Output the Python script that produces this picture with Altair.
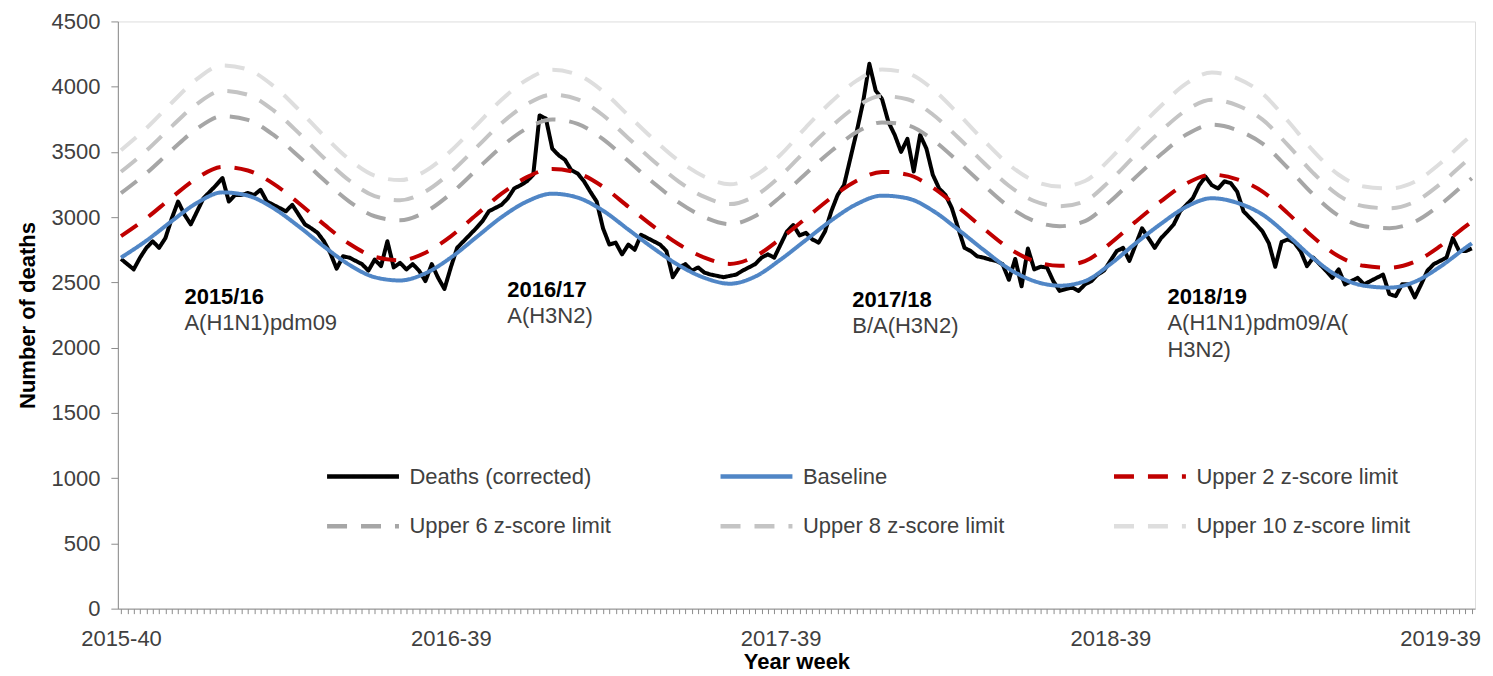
import altair as alt
import pandas as pd

# ---------------- data ----------------
week_labels = ["2015-40", "2016-39", "2017-39", "2018-39", "2019-39"]
label_weeks = [0, 52, 104, 156, 208]

deaths = [
    2680, 2640, 2600, 2690, 2765, 2815, 2765, 2840, 2990, 3120,
    3020, 2945, 3045, 3145, 3195, 3245, 3300, 3120, 3170, 3170,
    3185, 3170, 3210, 3120, 3095, 3070, 3045, 3095, 3020, 2945,
    2915, 2880, 2815, 2725, 2605, 2700, 2690, 2665, 2640, 2590,
    2675, 2625, 2815, 2615, 2650, 2600, 2640, 2590, 2510, 2640,
    2535, 2450, 2615, 2765, 2815, 2865, 2915, 2970, 3045, 3070,
    3095, 3145, 3220, 3245, 3275, 3325, 3780, 3755, 3525, 3475,
    3440, 3360, 3335, 3275, 3195, 3120, 2915, 2790, 2805, 2715,
    2790, 2750, 2865, 2840, 2815, 2790, 2740, 2540, 2615, 2640,
    2590, 2615, 2575, 2560, 2550, 2540, 2550, 2560, 2590, 2615,
    2640, 2690, 2715, 2690, 2790, 2890, 2940, 2860, 2880, 2830,
    2805, 2890, 3045, 3170, 3245, 3450, 3655, 3880, 4175, 3970,
    3905, 3730, 3630, 3500, 3600, 3350, 3630, 3525, 3325, 3220,
    3170, 3070, 2915, 2765, 2740, 2700, 2690, 2675, 2665, 2640,
    2520, 2680, 2470, 2760, 2600, 2620, 2615, 2510, 2435, 2450,
    2460, 2435, 2485, 2510, 2560, 2590, 2665, 2740, 2765, 2665,
    2790, 2915, 2840, 2765, 2840, 2890, 2945, 3045, 3095, 3145,
    3245, 3310, 3245, 3220, 3275, 3260, 3195, 3045, 2995, 2945,
    2890, 2800, 2620, 2810, 2830, 2805, 2740, 2625, 2690, 2640,
    2590, 2535, 2600, 2485, 2510, 2535, 2485, 2510, 2535, 2560,
    2410, 2395, 2485, 2485, 2385, 2485, 2590, 2640, 2665, 2690,
    2840, 2740, 2740, 2760,
]
week_index = list(range(len(deaths)))

# baseline and limits read every 4 weeks (plus the last week)
smooth_weeks = list(range(0, 213, 4)) + [213]

baseline = [
    2690, 2820, 2970, 3110, 3190, 3165, 3070, 2930, 2775, 2635,
    2540, 2515, 2570, 2690, 2845, 3000, 3120, 3180, 3150, 3050,
    2905, 2760, 2630, 2535, 2490, 2545, 2675, 2825, 2975, 3100,
    3165, 3145, 3050, 2905, 2750, 2605, 2510, 2475, 2510, 2640,
    2800, 2950, 3080, 3145, 3110, 3020, 2860, 2685, 2545, 2475,
    2460, 2505, 2620, 2765, 2800,
]
upper2 = [
    2855, 2992, 3151, 3300, 3385, 3358, 3257, 3109, 2945, 2796,
    2696, 2669, 2727, 2853, 3017, 3180, 3307, 3370, 3338, 3233,
    3080, 2927, 2790, 2690, 2642, 2700, 2836, 2992, 3149, 3279,
    3347, 3326, 3227, 3076, 2914, 2762, 2663, 2627, 2663, 2799,
    2966, 3123, 3258, 3326, 3290, 3196, 3029, 2846, 2700, 2627,
    2612, 2658, 2778, 2930, 2966,
]
upper6 = [
    3184, 3337, 3514, 3679, 3774, 3745, 3632, 3467, 3284, 3119,
    3007, 2976, 3040, 3180, 3360, 3540, 3680, 3749, 3715, 3598,
    3430, 3262, 3111, 3000, 2947, 3009, 3157, 3335, 3507, 3652,
    3726, 3704, 3593, 3426, 3247, 3081, 2970, 2931, 2970, 3122,
    3307, 3482, 3633, 3708, 3667, 3563, 3377, 3174, 3011, 2931,
    2916, 2965, 3095, 3259, 3298,
]
upper8 = [
    3348, 3510, 3696, 3869, 3968, 3938, 3820, 3646, 3454, 3281,
    3162, 3130, 3197, 3344, 3532, 3720, 3866, 3939, 3903, 3781,
    3605, 3429, 3271, 3155, 3100, 3164, 3317, 3512, 3695, 3849,
    3928, 3904, 3787, 3610, 3419, 3241, 3124, 3083, 3124, 3283,
    3478, 3661, 3820, 3899, 3857, 3747, 3552, 3338, 3167, 3083,
    3068, 3118, 3253, 3423, 3464,
]
upper10 = [
    3513, 3682, 3877, 4059, 4163, 4131, 4007, 3825, 3624, 3442,
    3318, 3284, 3354, 3507, 3704, 3900, 4053, 4129, 4091, 3964,
    3780, 3596, 3431, 3310, 3252, 3319, 3478, 3689, 3884, 4046,
    4131, 4104, 3981, 3793, 3590, 3403, 3277, 3235, 3277, 3449,
    3658, 3854, 4025, 4109, 4064, 3946, 3737, 3508, 3325, 3235,
    3220, 3271, 3411, 3588, 3630,
]

series_names = [
    "Deaths (corrected)", "Baseline", "Upper 2 z-score limit",
    "Upper 6 z-score limit", "Upper 8 z-score limit", "Upper 10 z-score limit",
]

season_titles = ["2015/16", "2016/17", "2017/18", "2018/19"]
season_lines = ["A(H1N1)pdm09", "A(H3N2)", "B/A(H3N2)", "A(H1N1)pdm09/A(", "H3N2)"]

# ---------------- styles / placement ----------------
series_colors = ["#000000", "#5086c6", "#c00000", "#a6a6a6", "#c4c4c4", "#dedede"]
series_dash = [[1, 0], [1, 0], [20, 14], [20, 14], [20, 14], [20, 14]]

title_x = [10.0, 60.9, 115.3, 165.0]
title_y = [2386, 2440, 2363, 2386]
line_x = [10.0, 60.9, 115.3, 165.0, 165.0]
line_y = [2187, 2240, 2164, 2187, 1980]

FONT = "Liberation Sans"
TXT = "#404040"

# ---------------- tables ----------------
deaths_df = pd.DataFrame({"week": week_index, "value": deaths, "series": series_names[0]})
smooth_parts = []
for name, vals in zip(series_names[1:], [baseline, upper2, upper6, upper8, upper10]):
    smooth_parts.append(pd.DataFrame({"week": smooth_weeks, "value": vals, "series": name}))
smooth_df = pd.concat(smooth_parts, ignore_index=True)

titles_df = pd.DataFrame({"week": title_x, "value": title_y, "text": season_titles})
lines_df = pd.DataFrame({"week": line_x, "value": line_y, "text": season_lines})

# ---------------- scales / axes ----------------
label_expr = " : ".join(
    f"datum.value == {w} ? '{lab}'" for w, lab in zip(label_weeks, week_labels)
) + " : ''"

x_scale = alt.Scale(domain=[-0.5, len(deaths) - 0.5], nice=False, zero=False)
y_scale = alt.Scale(domain=[0, 4500], nice=False)

x_axis = alt.Axis(
    values=week_index, tickCount=len(week_index) + 10, labelExpr=label_expr,
    labelOverlap=False, labelFlush=False,
    grid=False, tickSize=5, tickColor="#8c8c8c", domainColor="#8c8c8c",
    labelFontSize=22, labelColor=TXT, labelFont=FONT, labelPadding=15,
    title="Year week", titleFontSize=22, titleFont=FONT, titleFontWeight="bold",
    titleColor="#000000", titlePadding=2,
)
y_axis = alt.Axis(
    values=list(range(0, 4501, 500)), format="d", grid=False, tickSize=7,
    tickColor="#8c8c8c", domainColor="#8c8c8c", labelFontSize=22, labelColor=TXT,
    labelFont=FONT, labelPadding=11, title="Number of deaths", titleFontSize=22,
    titleFont=FONT, titleFontWeight="bold", titleColor="#000000", titlePadding=12,
)

legend = alt.Legend(
    title=None, orient="none", legendX=207, legendY=417, columns=3,
    direction="horizontal", columnPadding=88, rowPadding=-24, gridAlign="all",
    symbolType="stroke", symbolSize=5184, symbolStrokeWidth=4.5, labelFontSize=22,
    labelFont=FONT, labelColor=TXT, labelOffset=8, labelLimit=400,
)

color_scale = alt.Scale(domain=series_names, range=series_colors)
dash_scale = alt.Scale(domain=series_names, range=series_dash)

enc = dict(
    x=alt.X("week:Q", scale=x_scale, axis=x_axis),
    y=alt.Y("value:Q", scale=y_scale, axis=y_axis),
    color=alt.Color("series:N", scale=color_scale, legend=legend),
    strokeDash=alt.StrokeDash("series:N", scale=dash_scale, legend=legend),
)

deaths_layer = alt.Chart(deaths_df).mark_line(strokeWidth=4, strokeJoin="round").encode(
    **enc, order=alt.Order("week:Q")
)
smooth_layer = alt.Chart(smooth_df).mark_line(strokeWidth=4, interpolate="monotone").encode(
    **enc, order=alt.Order("week:Q")
)

titles_layer = alt.Chart(titles_df).mark_text(
    align="left", baseline="middle", font=FONT, fontSize=22, fontWeight="bold", color="#000000"
).encode(x=alt.X("week:Q", scale=x_scale), y=alt.Y("value:Q", scale=y_scale), text="text:N")

lines_layer = alt.Chart(lines_df).mark_text(
    align="left", baseline="middle", font=FONT, fontSize=22, color=TXT
).encode(x=alt.X("week:Q", scale=x_scale), y=alt.Y("value:Q", scale=y_scale), text="text:N")

chart = alt.layer(deaths_layer, smooth_layer, titles_layer, lines_layer).properties(
    width=1359, height=588,
    autosize=alt.AutoSizeParams(type="none"),
    padding={"left": 110, "top": 13, "right": 10, "bottom": 66},
).configure_view(stroke=None).configure(background="white")

chart.save("out.html", embed_options={"renderer": "svg", "actions": False})
